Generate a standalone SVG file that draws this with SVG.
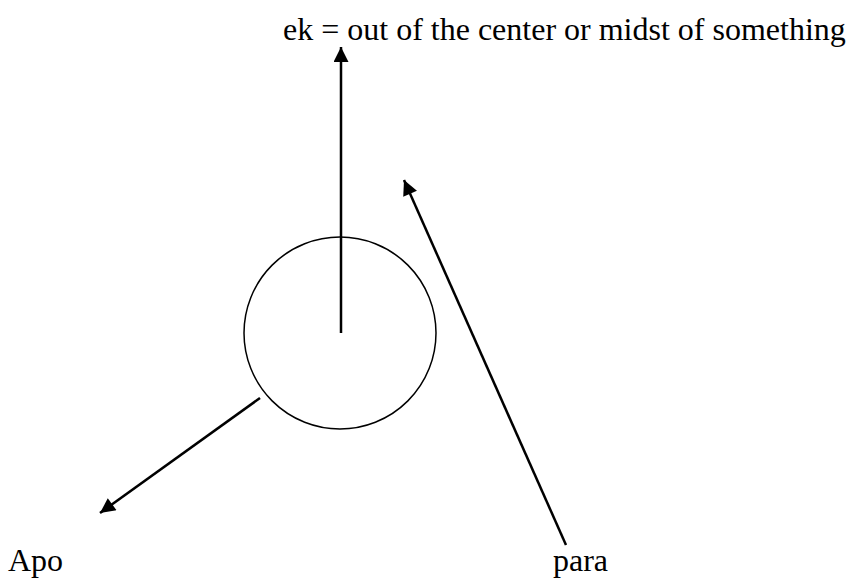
<svg xmlns="http://www.w3.org/2000/svg" width="856" height="579" viewBox="0 0 856 579">
<style>
.t{font-family:'Liberation Serif','Times New Roman',Tinos,'DejaVu Serif',serif;font-size:32px;fill:#000}
.c{stroke:#000;stroke-width:2.5;fill:none}
</style>
<defs>
<marker id="ah" viewBox="0 0 10 10" refX="10" refY="5" markerWidth="7" markerHeight="6" markerUnits="strokeWidth" orient="auto">
<path d="M0,0 L10,5 L0,10 z" fill="#000"/>
</marker>
</defs>
<rect width="856" height="579" fill="#fff"/>
<g id="circle"><circle cx="340" cy="333" r="96" fill="none" stroke="#000" stroke-width="1.5"/></g>
<g id="ek"><text class="t" font-family="Liberation Serif, serif" x="283" y="40">ek = out of the center or midst of something</text></g>
<g id="apo"><text class="t" font-family="Liberation Serif, serif" x="8" y="571">Apo</text></g>
<g id="para"><text class="t" font-family="Liberation Serif, serif" x="553" y="571">para</text></g>
<g id="connectors">
<line class="c" x1="341" y1="333" x2="341" y2="47" marker-end="url(#ah)"/>
<line class="c" x1="260" y1="398" x2="100" y2="513" marker-end="url(#ah)"/>
<line class="c" x1="566" y1="545" x2="404" y2="180" marker-end="url(#ah)"/>
</g>
</svg>
